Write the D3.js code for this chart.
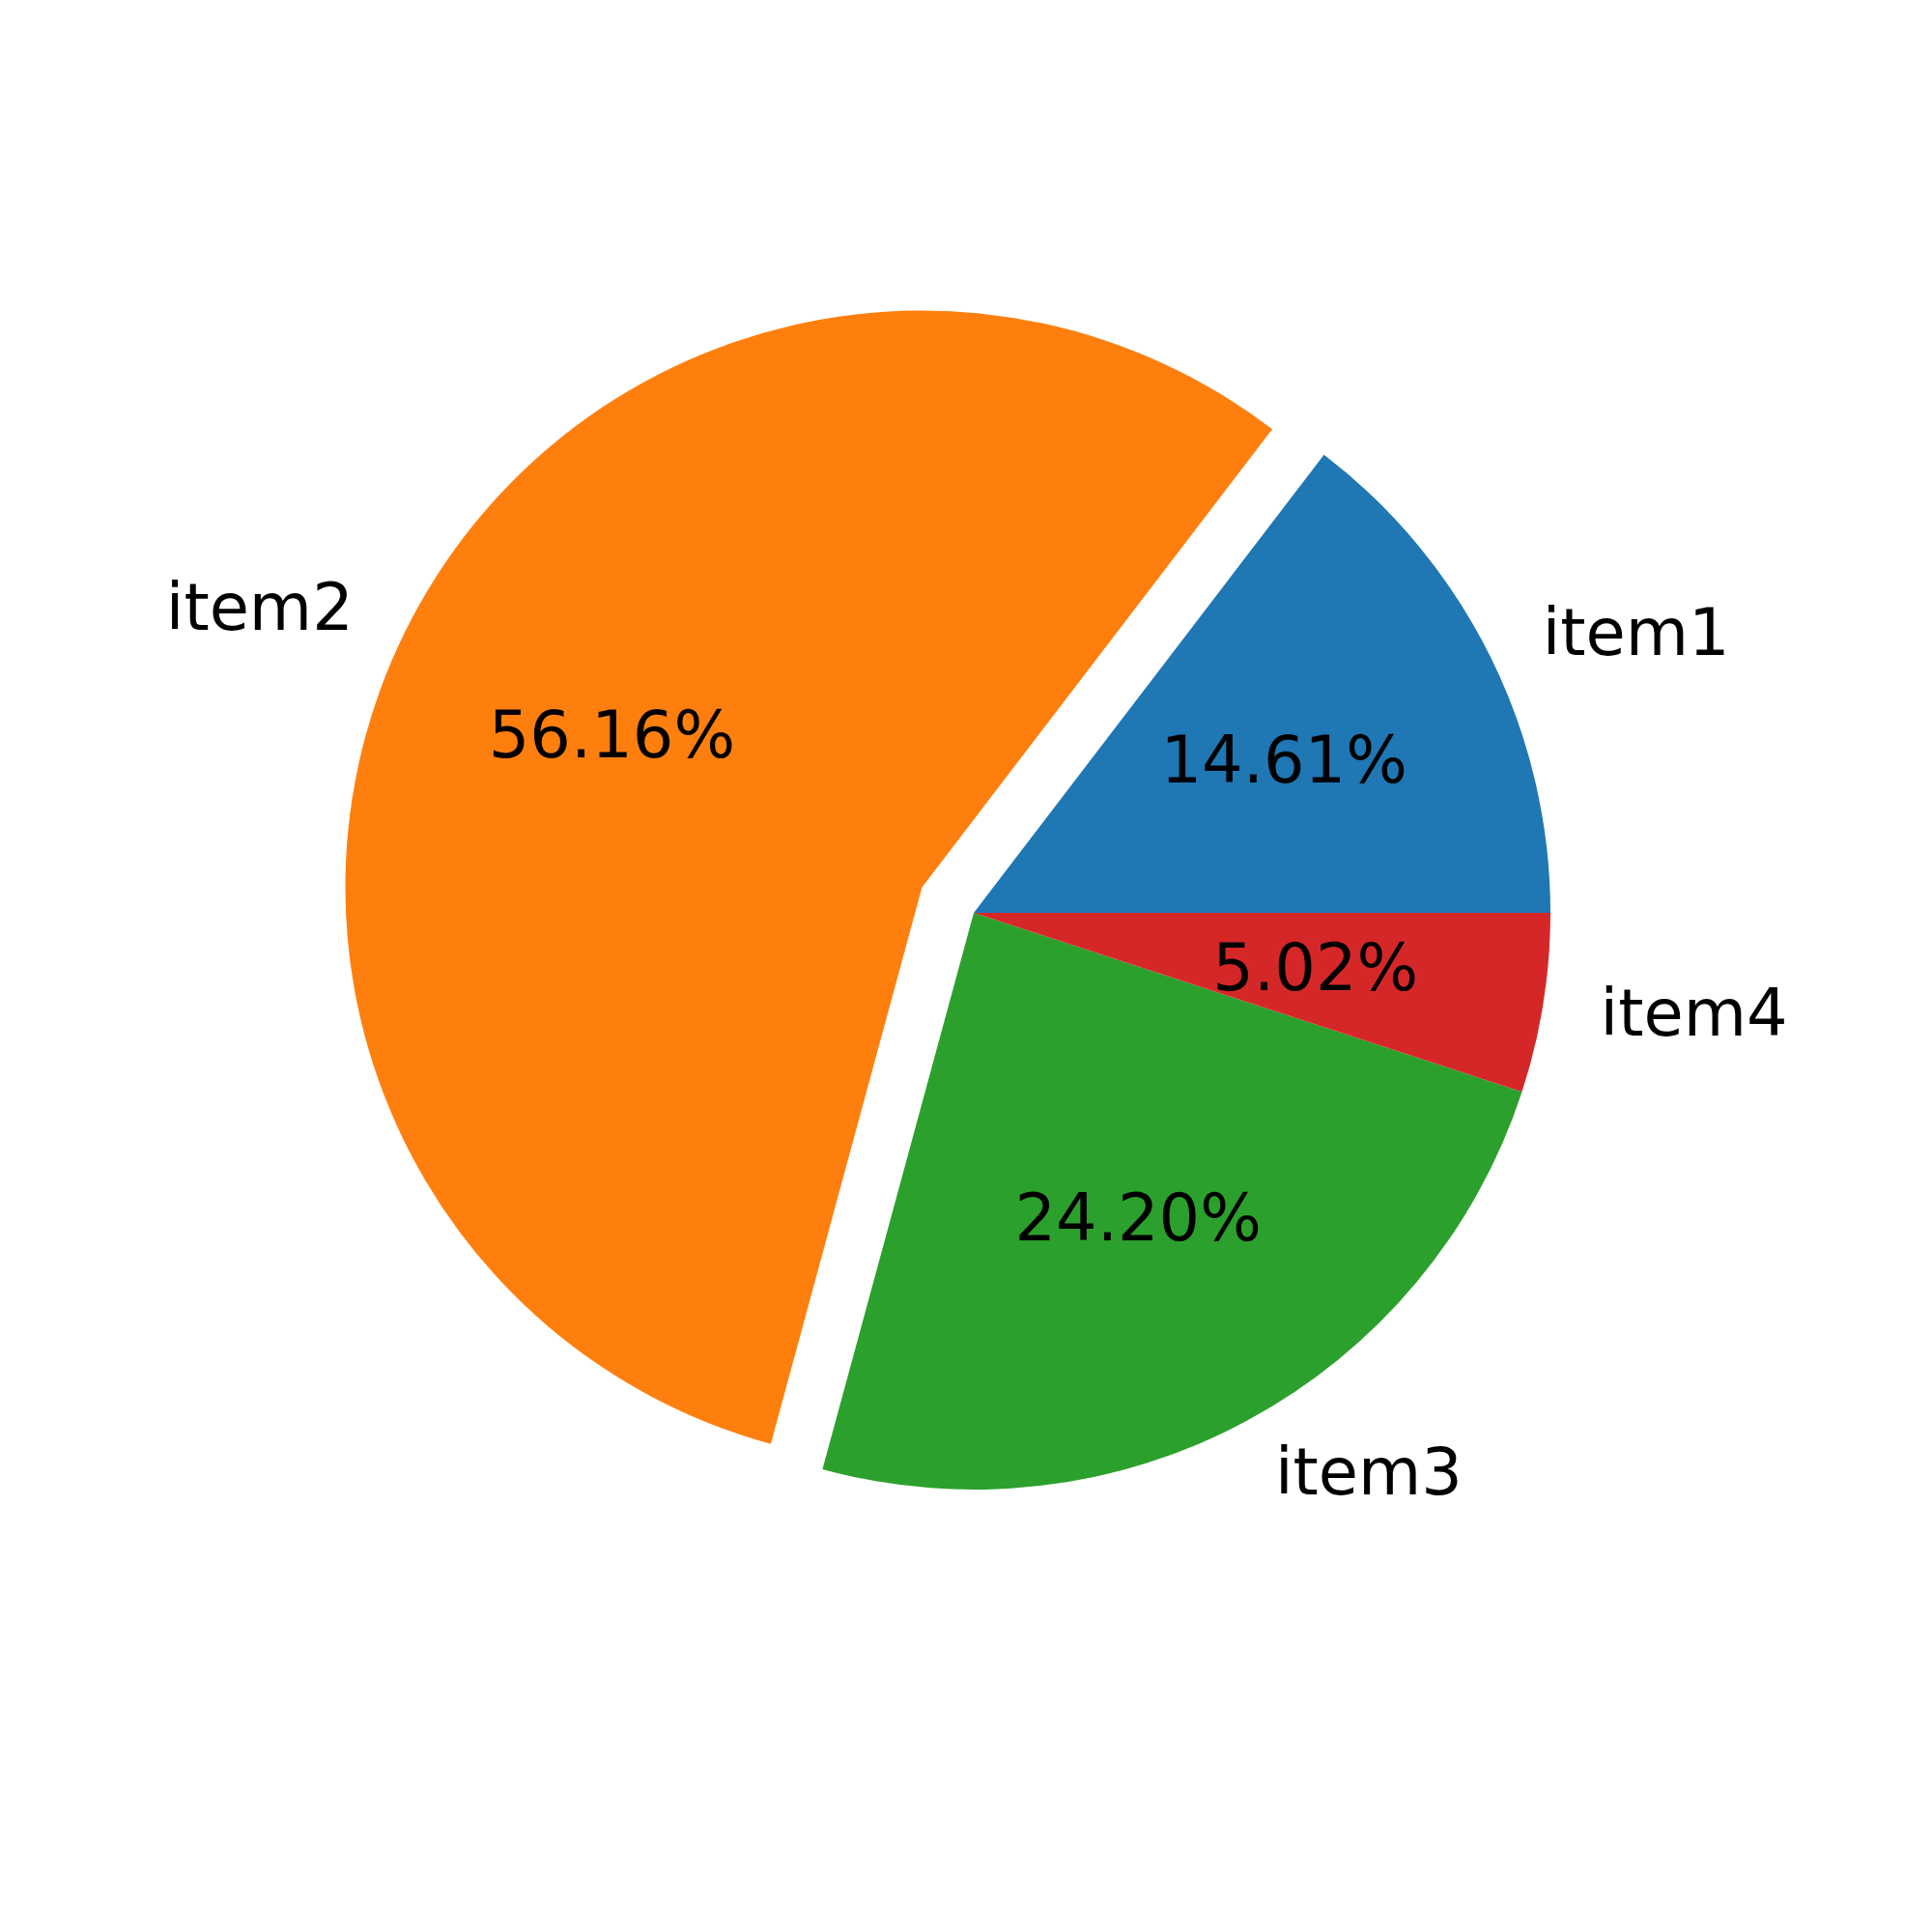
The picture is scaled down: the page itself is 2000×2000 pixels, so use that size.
<!DOCTYPE html>
<html>
<head>
<meta charset="utf-8">
<script src="https://cdn.jsdelivr.net/npm/d3@7"></script>
<style>
  body { margin: 0; background: #fff; }
  text { font-family: "DejaVu Sans", sans-serif; fill: #000; }
</style>
</head>
<body>
<div id="chart"></div>
<script>
// pie data
var labels = ["item1", "item2", "item3", "item4"];
var shares = [14.61, 56.16, 24.20, 5.02];
var explode = [0, 0.1, 0, 0];
var colors = ["#1f77b4", "#ff7f0e", "#2ca02c", "#d62728"];

var width = 2000, height = 2000;
var cx = 1008, cy = 945, radius = 597;

var svg = d3.select("#chart").append("svg")
    .attr("width", width)
    .attr("height", height);

var g = svg.append("g").attr("transform", "translate(" + cx + "," + cy + ")");

// matplotlib style: start at 3 o'clock, go counterclockwise
var pie = d3.pie()
    .sort(null)
    .startAngle(Math.PI / 2)
    .endAngle(Math.PI / 2 - 2 * Math.PI)
    .value(function(d) { return d; });

var arc = d3.arc().innerRadius(0).outerRadius(radius);

var arcs = pie(shares);

function midAngle(d) { return (d.startAngle + d.endAngle) / 2; }
// d3 angle -> x,y on a circle of radius r
function pos(a, r) { return [r * Math.sin(a), -r * Math.cos(a)]; }

var slice = g.selectAll(".slice")
    .data(arcs)
    .enter().append("g")
    .attr("class", "slice")
    .attr("transform", function(d, i) {
        var p = pos(midAngle(d), explode[i] * radius);
        return "translate(" + p[0] + "," + p[1] + ")";
    });

slice.append("path")
    .attr("d", arc)
    .style("fill", function(d, i) { return colors[i]; });

// percent labels
slice.append("text")
    .attr("transform", function(d) {
        return "translate(" + pos(midAngle(d), radius * 0.6) + ")";
    })
    .attr("text-anchor", "middle")
    .attr("dy", "0.36em")
    .style("font-size", "67px")
    .text(function(d, i) { return shares[i].toFixed(2) + "%"; });

// item labels
slice.append("text")
    .attr("transform", function(d) {
        return "translate(" + pos(midAngle(d), radius * 1.1) + ")";
    })
    .attr("text-anchor", function(d) {
        return Math.sin(midAngle(d)) >= 0 ? "start" : "end";
    })
    .attr("dy", "0.36em")
    .style("font-size", "67px")
    .text(function(d, i) { return labels[i]; });
</script>
</body>
</html>
